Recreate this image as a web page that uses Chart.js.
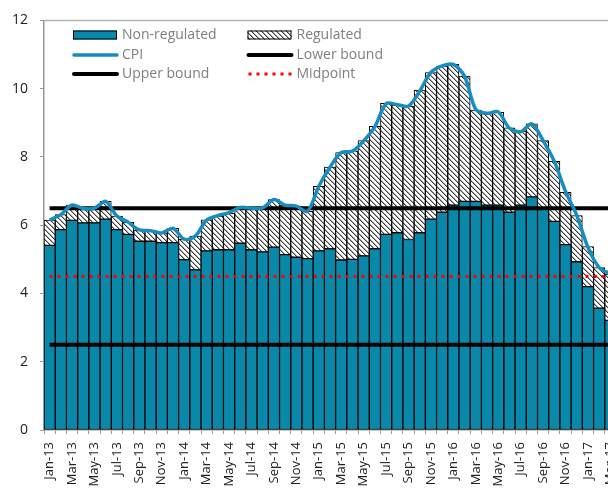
<!DOCTYPE html>
<html>
<head>
<meta charset="utf-8">
<script src="https://cdn.jsdelivr.net/npm/chart.js@4.4.1/dist/chart.umd.min.js"></script>
<style>
  html, body { margin: 0; padding: 0; background: #fff; overflow: hidden; }
  canvas { display: block; }
</style>
</head>
<body>
<canvas id="inflation" width="616" height="492"></canvas>
<script>
var months = ['Jan-13', 'Feb-13', 'Mar-13', 'Apr-13', 'May-13', 'Jun-13', 'Jul-13', 'Aug-13', 'Sep-13', 'Oct-13', 'Nov-13', 'Dec-13',
    'Jan-14', 'Feb-14', 'Mar-14', 'Apr-14', 'May-14', 'Jun-14', 'Jul-14', 'Aug-14', 'Sep-14', 'Oct-14', 'Nov-14', 'Dec-14',
    'Jan-15', 'Feb-15', 'Mar-15', 'Apr-15', 'May-15', 'Jun-15', 'Jul-15', 'Aug-15', 'Sep-15', 'Oct-15', 'Nov-15', 'Dec-15',
    'Jan-16', 'Feb-16', 'Mar-16', 'Apr-16', 'May-16', 'Jun-16', 'Jul-16', 'Aug-16', 'Sep-16', 'Oct-16', 'Nov-16', 'Dec-16',
    'Jan-17', 'Feb-17', 'Mar-17'];

// contributions to CPI inflation, %
var nonRegulated = [5.41, 5.87, 6.14, 6.07, 6.07, 6.18, 5.87, 5.73, 5.53, 5.53, 5.49, 5.49,
    4.99, 4.69, 5.25, 5.28, 5.28, 5.47, 5.28, 5.22, 5.36, 5.14, 5.06, 5.02,
    5.25, 5.31, 4.98, 5.00, 5.10, 5.31, 5.73, 5.78, 5.58, 5.78, 6.18, 6.38,
    6.59, 6.70, 6.70, 6.59, 6.59, 6.38, 6.59, 6.83, 6.50, 6.11, 5.43, 4.93,
    4.20, 3.57, 3.21];
var regulated = [0.74, 0.44, 0.45, 0.42, 0.43, 0.52, 0.40, 0.36, 0.33, 0.31, 0.28, 0.42,
    0.60, 0.99, 0.91, 0.98, 1.07, 1.00, 1.22, 1.29, 1.39, 1.45, 1.50, 1.39,
    1.89, 2.39, 3.15, 3.18, 3.38, 3.59, 3.84, 3.74, 3.91, 4.18, 4.29, 4.28,
    4.12, 3.67, 2.67, 2.68, 2.72, 2.47, 2.16, 2.14, 1.98, 1.76, 1.53, 1.35,
    1.17, 1.19, 1.36];
var cpi = [6.15, 6.31, 6.59, 6.49, 6.50, 6.70, 6.27, 6.09, 5.86, 5.84, 5.77, 5.91,
    5.59, 5.68, 6.15, 6.28, 6.37, 6.52, 6.50, 6.51, 6.75, 6.59, 6.56, 6.41,
    7.14, 7.70, 8.13, 8.17, 8.47, 8.89, 9.56, 9.53, 9.49, 9.93, 10.48, 10.67,
    10.71, 10.36, 9.39, 9.28, 9.32, 8.84, 8.74, 8.97, 8.48, 7.87, 6.99, 6.29,
    5.35, 4.76, 4.57];
var upperBound = 6.5;
var lowerBound = 2.5;
var midpoint = 4.5;
var yTicks = [0, 2, 4, 6, 8, 10, 12];

var BAR_BLUE = '#0A88AA';
var CPI_BLUE = '#178DBF';
var FONT = "'Open Sans', 'Noto Sans', sans-serif";

// hatch for the regulated part
function makeHatch() {
    var s = 5;
    var c = document.createElement('canvas');
    c.width = s; c.height = s;
    var g = c.getContext('2d');
    g.fillStyle = '#fff';
    g.fillRect(0, 0, s, s);
    for (var x = 0; x < s; x++) {
        for (var y = 0; y < s; y++) {
            var d = ((x - y) % s + s) % s;
            if (d === 0) { g.fillStyle = '#3c3c3c'; g.fillRect(x, y, 1, 1); }
            if (d === 1) { g.fillStyle = '#a8a8a8'; g.fillRect(x, y, 1, 1); }
        }
    }
    return g.createPattern(c, 'repeat');
}
var hatch = makeHatch();

function flat(v) {
    return months.map(function () { return v; });
}

// plot frame + legend inside the plot, like the original
var framePlugin = {
    id: 'frame',
    beforeDatasetsDraw: function (chart) {
        var a = chart.chartArea, ctx = chart.ctx;
        ctx.save();
        ctx.strokeStyle = '#b3b3b3';
        ctx.lineWidth = 1.5;
        ctx.beginPath();
        ctx.moveTo(a.left, a.top);
        ctx.lineTo(a.right, a.top);
        ctx.stroke();
        ctx.restore();
    },
    afterDatasetsDraw: function (chart) {
        var ctx = chart.ctx, ds = chart.data.datasets;
        var cols = [73, 247.5], rows = [35, 55, 74];
        var order = [[0, 1], [2, 4], [3, 5]]; // dataset index by row/col
        ctx.save();
        ctx.font = '14px ' + FONT;
        ctx.textBaseline = 'middle';
        order.forEach(function (row, r) {
            row.forEach(function (di, c) {
                var d = ds[di], x = cols[c], y = rows[r];
                if (d.type === 'bar') {
                    ctx.fillStyle = d.backgroundColor;
                    ctx.fillRect(x, y - 4.5, 44, 9);
                    ctx.strokeStyle = '#000';
                    ctx.lineWidth = 1;
                    ctx.strokeRect(x + 0.5, y - 4, 43, 8);
                } else {
                    ctx.strokeStyle = d.borderColor;
                    ctx.lineWidth = d.borderWidth;
                    ctx.lineCap = d.borderDash ? 'butt' : 'round';
                    ctx.setLineDash(d.borderDash || []);
                    ctx.beginPath();
                    ctx.moveTo(x + 1, y);
                    ctx.lineTo(x + 44, y);
                    ctx.stroke();
                    ctx.setLineDash([]);
                }
                ctx.fillStyle = '#7f7f7f';
                ctx.fillText(d.label, x + 49, y + 0.5);
            });
        });
        ctx.restore();
    }
};

var ctx = document.getElementById('inflation');
var chart = new Chart(ctx, {
    plugins: [framePlugin],
    data: {
        labels: months,
        datasets: [
            {
                type: 'bar',
                label: 'Non-regulated',
                data: nonRegulated,
                backgroundColor: BAR_BLUE,
                borderColor: '#000',
                borderWidth: 1,
                borderSkipped: false,
                stack: 'contrib',
                order: 10,
            },
            {
                type: 'bar',
                label: 'Regulated',
                data: regulated,
                backgroundColor: hatch,
                borderColor: '#000',
                borderWidth: 1,
                borderSkipped: false,
                stack: 'contrib',
                order: 10,
            },
            {
                type: 'line',
                label: 'CPI',
                data: cpi,
                borderColor: CPI_BLUE,
                borderWidth: 3.5,
                tension: 0.3,
                pointRadius: 0,
                stack: 'cpi',
                order: 1,
            },
            {
                type: 'line',
                label: 'Upper bound',
                data: flat(upperBound),
                borderColor: '#000',
                borderWidth: 4,
                pointRadius: 0,
                stack: 'ub',
                order: 2,
            },
            {
                type: 'line',
                label: 'Lower bound',
                data: flat(lowerBound),
                borderColor: '#000',
                borderWidth: 4,
                pointRadius: 0,
                stack: 'lb',
                order: 2,
            },
            {
                type: 'line',
                label: 'Midpoint',
                data: flat(midpoint),
                borderColor: '#ff0000',
                borderWidth: 3,
                borderDash: [3, 5],
                pointRadius: 0,
                stack: 'mid',
                order: 2,
            },
        ]
    },
    options: {
        responsive: false,
        animation: false,
        layout: {
            autoPadding: false,
            padding: { top: 16, right: 0, bottom: 0, left: 0 },
        },
        plugins: {
            legend: { display: false },
            tooltip: { enabled: false },
        },
        datasets: {
            bar: {
                barPercentage: 1,
                categoryPercentage: 1,
            },
        },
        scales: {
            x: {
                stacked: true,
                offset: true,
                afterFit: function (scale) {
                    scale.height = 62;
                    // the original is cut at the right edge, no room kept for the last label
                    scale.paddingRight = 0;
                    scale.paddingLeft = 0;
                },
                border: { color: '#999', width: 1.5 },
                grid: {
                    offset: true,
                    drawOnChartArea: false,
                    color: '#999',
                    tickLength: 4,
                    lineWidth: 1,
                },
                ticks: {
                    autoSkip: false,
                    maxRotation: 90,
                    minRotation: 90,
                    padding: 8,
                    color: '#222',
                    font: { family: FONT, size: 13 },
                    callback: function (value, index) {
                        return index % 2 === 0 ? months[index] : '';
                    },
                },
            },
            y: {
                stacked: true,
                min: yTicks[0],
                max: yTicks[yTicks.length - 1],
                afterFit: function (scale) { scale.width = 44; },
                afterBuildTicks: function (scale) {
                    scale.ticks = yTicks.map(function (v) { return { value: v }; });
                },
                border: { color: '#999', width: 1.5 },
                grid: {
                    drawOnChartArea: false,
                    color: '#999',
                    tickLength: 4,
                },
                ticks: {
                    padding: 12,
                    color: '#222',
                    font: { family: FONT, size: 14 },
                },
            },
        },
    },
});
</script>
</body>
</html>
